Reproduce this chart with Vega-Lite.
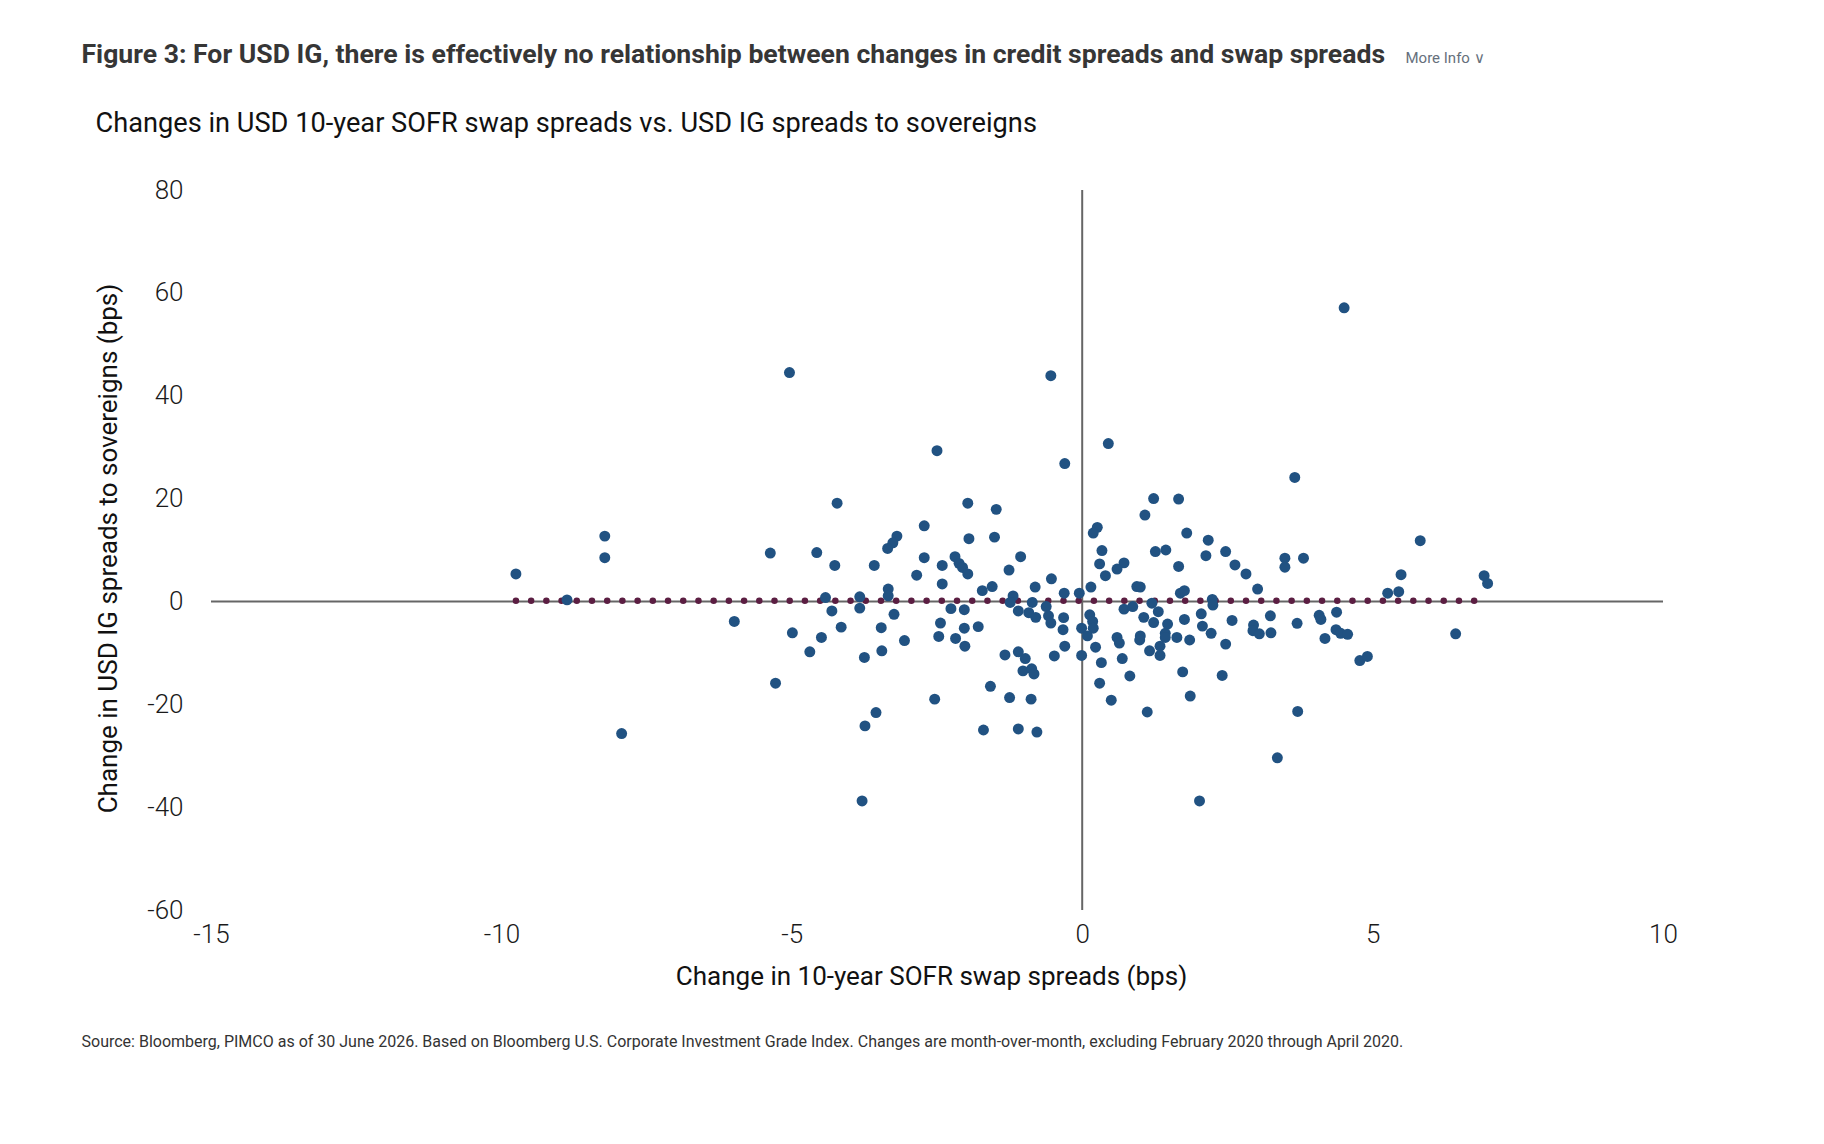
{
  "$schema": "https://vega.github.io/schema/vega-lite/v6.json",
  "autosize": {"type": "none"},
  "width": 1452,
  "height": 720,
  "padding": {"left": 211, "top": 190, "right": 161, "bottom": 234},
  "background": "white",
  "config": {
    "view": {"stroke": null},
    "axis": {"grid": false, "domain": false, "ticks": false}
  },
  "datasets": {
    "points": [
      {"x": -5.04, "y": 44.5}, {"x": -2.50, "y": 29.3}, {"x": -4.22, "y": 19.1}, {"x": -1.97, "y": 19.1},
      {"x": -1.48, "y": 17.9}, {"x": -2.72, "y": 14.7}, {"x": -3.19, "y": 12.7}, {"x": -3.26, "y": 11.4},
      {"x": -3.35, "y": 10.3}, {"x": -1.95, "y": 12.2}, {"x": -1.51, "y": 12.5}, {"x": -8.22, "y": 12.7},
      {"x": -8.22, "y": 8.5}, {"x": -5.37, "y": 9.4}, {"x": -4.57, "y": 9.5}, {"x": -2.72, "y": 8.5},
      {"x": -2.19, "y": 8.7}, {"x": -9.75, "y": 5.35}, {"x": -8.87, "y": 0.3}, {"x": -4.26, "y": 7.0},
      {"x": -3.58, "y": 7.0}, {"x": -2.41, "y": 7.0}, {"x": -2.12, "y": 7.4}, {"x": -2.06, "y": 6.6},
      {"x": -1.97, "y": 5.35}, {"x": -2.85, "y": 5.1}, {"x": -2.41, "y": 3.4}, {"x": -1.72, "y": 2.1},
      {"x": -1.55, "y": 2.9}, {"x": -4.42, "y": 0.75}, {"x": -3.83, "y": 0.9}, {"x": -3.83, "y": -1.3},
      {"x": -3.34, "y": 2.4}, {"x": -3.34, "y": 1.1}, {"x": -4.31, "y": -1.85}, {"x": -3.24, "y": -2.5},
      {"x": -2.26, "y": -1.4}, {"x": -2.03, "y": -1.6}, {"x": -5.99, "y": -3.9}, {"x": -4.99, "y": -6.1},
      {"x": -4.15, "y": -5.0}, {"x": -4.49, "y": -7.0}, {"x": -4.69, "y": -9.8}, {"x": -3.46, "y": -5.1},
      {"x": -3.45, "y": -9.6}, {"x": -3.75, "y": -10.9}, {"x": -3.06, "y": -7.6}, {"x": -2.44, "y": -4.2},
      {"x": -2.47, "y": -6.8}, {"x": -2.18, "y": -7.2}, {"x": -2.03, "y": -5.2}, {"x": -2.02, "y": -8.7},
      {"x": -1.79, "y": -4.9}, {"x": -5.28, "y": -15.9}, {"x": -1.58, "y": -16.5}, {"x": -2.54, "y": -19.0},
      {"x": -3.55, "y": -21.6}, {"x": -3.74, "y": -24.2}, {"x": -1.70, "y": -25.0}, {"x": -7.93, "y": -25.7},
      {"x": -3.79, "y": -38.8}, {"x": 4.51, "y": 57.1}, {"x": -0.54, "y": 43.9}, {"x": 0.45, "y": 30.7},
      {"x": -0.30, "y": 26.8}, {"x": 3.66, "y": 24.1}, {"x": 1.23, "y": 20.0}, {"x": 1.66, "y": 19.9},
      {"x": 1.08, "y": 16.8}, {"x": 0.26, "y": 14.4}, {"x": 0.19, "y": 13.3}, {"x": 1.80, "y": 13.3},
      {"x": 2.17, "y": 11.9}, {"x": 5.82, "y": 11.8}, {"x": 0.34, "y": 9.9}, {"x": 1.26, "y": 9.7},
      {"x": 1.44, "y": 10.0}, {"x": 2.47, "y": 9.7}, {"x": -1.06, "y": 8.7}, {"x": -1.26, "y": 6.1},
      {"x": 0.30, "y": 7.3}, {"x": 0.72, "y": 7.5}, {"x": 0.60, "y": 6.3}, {"x": 0.40, "y": 5.0},
      {"x": 1.66, "y": 6.8}, {"x": 2.13, "y": 8.9}, {"x": 2.63, "y": 7.1}, {"x": 2.82, "y": 5.35},
      {"x": 3.49, "y": 8.4}, {"x": 3.49, "y": 6.65}, {"x": 3.81, "y": 8.4}, {"x": -0.53, "y": 4.4},
      {"x": -0.81, "y": 2.8}, {"x": 0.15, "y": 2.8}, {"x": -0.31, "y": 1.6}, {"x": -0.05, "y": 1.6},
      {"x": -1.19, "y": 1.07}, {"x": -1.24, "y": -0.2}, {"x": -0.86, "y": -0.2}, {"x": -0.62, "y": -1.0},
      {"x": -1.10, "y": -1.85}, {"x": -0.92, "y": -2.2}, {"x": -0.80, "y": -3.1}, {"x": -0.58, "y": -2.8},
      {"x": -0.54, "y": -4.2}, {"x": -0.32, "y": -3.15}, {"x": -0.33, "y": -5.5}, {"x": -0.01, "y": -5.2},
      {"x": 0.13, "y": -2.6}, {"x": 0.18, "y": -3.9}, {"x": 0.19, "y": -5.2}, {"x": 0.09, "y": -6.7},
      {"x": -0.30, "y": -8.7}, {"x": -0.01, "y": -10.5}, {"x": 0.23, "y": -8.9}, {"x": -0.48, "y": -10.6},
      {"x": -1.33, "y": -10.4}, {"x": -1.10, "y": -9.8}, {"x": -0.98, "y": -11.1}, {"x": -1.02, "y": -13.5},
      {"x": -0.87, "y": -13.1}, {"x": -0.83, "y": -14.1}, {"x": -1.25, "y": -18.7}, {"x": -0.88, "y": -19.0},
      {"x": -1.10, "y": -24.8}, {"x": -0.78, "y": -25.4}, {"x": 0.33, "y": -11.9}, {"x": 0.30, "y": -15.9},
      {"x": 0.50, "y": -19.2}, {"x": 0.60, "y": -7.0}, {"x": 0.64, "y": -8.1}, {"x": 0.69, "y": -11.1},
      {"x": 0.82, "y": -14.5}, {"x": 0.72, "y": -1.5}, {"x": 0.87, "y": -1.0}, {"x": 0.94, "y": 2.9},
      {"x": 1.00, "y": 2.8}, {"x": 1.06, "y": -3.1}, {"x": 1.00, "y": -6.7}, {"x": 0.99, "y": -7.5},
      {"x": 1.20, "y": -0.35}, {"x": 1.31, "y": -2.0}, {"x": 1.23, "y": -4.1}, {"x": 1.47, "y": -4.4},
      {"x": 1.43, "y": -6.2}, {"x": 1.43, "y": -7.0}, {"x": 1.63, "y": -7.0}, {"x": 1.16, "y": -9.6},
      {"x": 1.34, "y": -8.7}, {"x": 1.34, "y": -10.5}, {"x": 1.12, "y": -21.5}, {"x": 1.69, "y": 1.6},
      {"x": 1.76, "y": 2.1}, {"x": 1.76, "y": -3.5}, {"x": 1.85, "y": -7.5}, {"x": 1.73, "y": -13.7},
      {"x": 1.86, "y": -18.4}, {"x": 2.02, "y": -38.8}, {"x": 2.05, "y": -2.4}, {"x": 2.07, "y": -4.8},
      {"x": 2.22, "y": -6.2}, {"x": 2.24, "y": 0.4}, {"x": 2.25, "y": -0.7}, {"x": 2.47, "y": -8.3},
      {"x": 2.41, "y": -14.4}, {"x": 2.58, "y": -3.7}, {"x": 3.02, "y": 2.4}, {"x": 2.95, "y": -4.6},
      {"x": 2.94, "y": -5.7}, {"x": 3.05, "y": -6.3}, {"x": 3.24, "y": -2.8}, {"x": 3.25, "y": -6.1},
      {"x": 3.70, "y": -4.25}, {"x": 3.71, "y": -21.4}, {"x": 3.36, "y": -30.4}, {"x": 4.08, "y": -2.7},
      {"x": 4.11, "y": -3.5}, {"x": 4.18, "y": -7.2}, {"x": 4.38, "y": -2.1}, {"x": 4.37, "y": -5.5},
      {"x": 4.45, "y": -6.2}, {"x": 4.57, "y": -6.4}, {"x": 4.78, "y": -11.5}, {"x": 4.91, "y": -10.7},
      {"x": 5.26, "y": 1.6}, {"x": 5.45, "y": 1.9}, {"x": 5.49, "y": 5.2}, {"x": 6.43, "y": -6.3},
      {"x": 6.92, "y": 5.0}, {"x": 6.98, "y": 3.5}
    ],
    "trend": [
      {"x": -9.75, "y": 0.15},
      {"x": 6.98, "y": 0.15}
    ]
  },
  "resolve": {"axis": {"x": "independent", "y": "independent"}},
  "layer": [
    {
      "data": {"values": [{"y": 0}]},
      "mark": {"type": "rule", "color": "#666666", "strokeWidth": 2},
      "encoding": {
        "y": {
          "field": "y", "type": "quantitative",
          "scale": {"domain": [-60, 80], "nice": false, "zero": false},
          "axis": {
            "orient": "right", "labels": false, "ticks": false, "domain": false, "grid": false,
            "title": "More Info   ∨",
            "titleAngle": 0, "titleX": -258, "titleY": -128,
            "titleAlign": "left", "titleBaseline": "alphabetic",
            "titleFont": "Roboto", "titleFontSize": 15, "titleFontWeight": "normal", "titleColor": "#66707c"
          }
        }
      }
    },
    {
      "data": {"values": [{"x": 0}]},
      "mark": {"type": "rule", "color": "#666666", "strokeWidth": 2},
      "encoding": {
        "x": {
          "field": "x", "type": "quantitative",
          "scale": {"domain": [-15, 10], "nice": false, "zero": false},
          "axis": {
            "orient": "top", "labels": false, "ticks": false, "domain": false, "grid": false,
            "title": "Changes in USD 10-year SOFR swap spreads vs. USD IG spreads to sovereigns",
            "titleX": -116, "titleY": -59,
            "titleAlign": "left", "titleAnchor": "start", "titleBaseline": "alphabetic",
            "titleFont": "Roboto", "titleFontSize": 27.2, "titleFontWeight": "normal", "titleColor": "#111111"
          }
        }
      }
    },
    {
      "data": {"name": "trend"},
      "mark": {"type": "line", "color": "#5b1e42", "strokeWidth": 6.5, "strokeCap": "round", "strokeDash": [0.01, 15.2]},
      "encoding": {
        "x": {
          "field": "x", "type": "quantitative",
          "scale": {"domain": [-15, 10], "nice": false, "zero": false},
          "axis": {
            "orient": "top", "labels": false, "ticks": false, "domain": false, "grid": false,
            "title": "Figure 3: For USD IG, there is effectively no relationship between changes in credit spreads and swap spreads",
            "titleX": -130, "titleY": -128,
            "titleAlign": "left", "titleAnchor": "start", "titleBaseline": "alphabetic",
            "titleFont": "Roboto", "titleFontSize": 26.6, "titleFontWeight": "bold", "titleColor": "#363636"
          }
        },
        "y": {
          "field": "y", "type": "quantitative",
          "scale": {"domain": [-60, 80], "nice": false, "zero": false},
          "axis": {
            "orient": "left", "labels": false, "ticks": false, "domain": false, "grid": false,
            "title": "Source: Bloomberg, PIMCO as of 30 June 2026. Based on Bloomberg U.S. Corporate Investment Grade Index. Changes are month-over-month, excluding February 2020 through April 2020.",
            "titleAngle": 0, "titleX": -130, "titleY": 856,
            "titleAlign": "left", "titleAnchor": "start", "titleBaseline": "alphabetic",
            "titleFont": "Roboto", "titleFontSize": 16, "titleFontWeight": "normal", "titleColor": "#333333"
          }
        }
      }
    },
    {
      "data": {"name": "points"},
      "mark": {"type": "circle", "size": 120, "opacity": 1, "color": "#215282"},
      "encoding": {
        "x": {
          "field": "x", "type": "quantitative",
          "scale": {"domain": [-15, 10], "nice": false, "zero": false},
          "axis": {
            "orient": "bottom", "values": [-15, -10, -5, 0, 5, 10],
            "labelExpr": "'' + datum.value",
            "labelFont": "Roboto", "labelFontSize": 26, "labelFontWeight": 300, "labelColor": "#1a1a1a",
            "labelPadding": 11, "labelFlush": false, "labelOverlap": false,
            "title": "Change in 10-year SOFR swap spreads (bps)",
            "titleX": 720, "titleY": 66, "titleAlign": "center", "titleBaseline": "middle",
            "titleFont": "Roboto", "titleFontSize": 26, "titleFontWeight": "normal", "titleColor": "#111111"
          }
        },
        "y": {
          "field": "y", "type": "quantitative",
          "scale": {"domain": [-60, 80], "nice": false, "zero": false},
          "axis": {
            "orient": "left", "values": [-60, -40, -20, 0, 20, 40, 60, 80],
            "labelExpr": "'' + datum.value",
            "labelFont": "Roboto", "labelFontSize": 26, "labelFontWeight": 300, "labelColor": "#1a1a1a",
            "labelPadding": 28, "labelFlush": false, "labelOverlap": false,
            "title": "Change in USD IG spreads to sovereigns (bps)",
            "titleX": -103, "titleY": 358, "titleAngle": -90, "titleAlign": "center", "titleBaseline": "middle",
            "titleFont": "Roboto", "titleFontSize": 26, "titleFontWeight": "normal", "titleColor": "#111111"
          }
        }
      }
    }
  ]
}
